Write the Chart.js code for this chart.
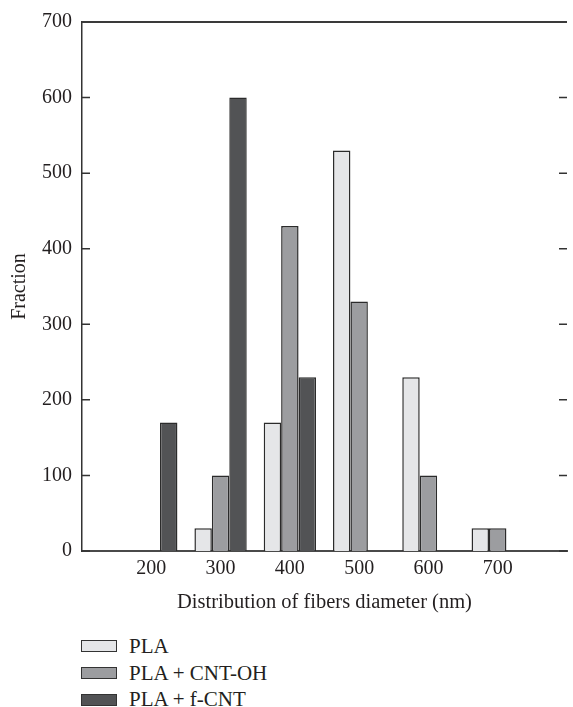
<!DOCTYPE html>
<html>
<head>
<meta charset="utf-8">
<script src="https://cdn.jsdelivr.net/npm/chart.js@4/dist/chart.umd.min.js"></script>
<style>
  html, body { margin: 0; padding: 0; background: #fff; }
  #wrap { position: relative; width: 573px; height: 707px; overflow: hidden; }
  #box { position: absolute; left: 0; top: 0; width: 573px; height: 625px; }
  #legend { position: absolute; left: 81px; top: 633px; font-family: "Liberation Serif", serif; font-size: 21px; color: #231f20; }
  .item { display: flex; align-items: center; height: 26.7px; }
  .sw { width: 34px; height: 10px; border: 1.5px solid #333; margin-right: 12px; }
</style>
</head>
<body>
<div id="wrap">
  <div id="box"><canvas id="c"></canvas></div>
  <div id="legend"></div>
</div>
<script>
// Category slots along the x axis (100 and 800 are empty edge slots)
const categories = ['100', '200', '300', '400', '500', '600', '700', '800'];
const tickLabels = ['200', '300', '400', '500', '600', '700'];
const seriesNames = ['PLA', 'PLA + CNT-OH', 'PLA + f-CNT'];
const plaValues    = [null, 0,  30, 170, 530, 230, 30, null];
const cntOhValues  = [null, 0, 100, 430, 330, 100, 30, null];
const fCntValues   = [null, 170, 600, 230, 0, 0, 0, null];
const seriesColors = ['#e5e6e8', '#9c9da0', '#525355'];
const yTicks = [0, 100, 200, 300, 400, 500, 600, 700];

const FONT = { family: '"Liberation Serif", serif', size: 20 };
const TITLE_FONT = { family: '"Liberation Serif", serif', size: 20.5 };
const TEXT = '#231f20';

const innerTicks = {
  id: 'innerTicks',
  afterDraw(chart) {
    const { ctx, chartArea: { left, right, top } } = chart;
    const ys = chart.scales.y;
    ctx.save();
    ctx.strokeStyle = '#333';
    ctx.lineWidth = 1.5;
    ys.ticks.forEach(t => {
      const y = ys.getPixelForValue(t.value);
      ctx.beginPath();
      ctx.moveTo(left, y); ctx.lineTo(left + 8, y);
      ctx.moveTo(right - 8, y); ctx.lineTo(right, y);
      ctx.stroke();
    });
    ctx.lineWidth = 2;
    ctx.strokeStyle = '#3a3a3a';
    ctx.beginPath();
    ctx.moveTo(left, top); ctx.lineTo(right, top);
    ctx.stroke();
    ctx.restore();
  }
};

const allSeries = [plaValues, cntOhValues, fCntValues];
const chart = new Chart(document.getElementById('c'), {
  type: 'bar',
  data: {
    labels: categories,
    datasets: allSeries.map((vals, i) => ({
      label: seriesNames[i],
      data: vals,
      backgroundColor: seriesColors[i],
      borderColor: '#2b2b2b',
      borderWidth: ctx => (ctx.raw ? 1.5 : 0),
      borderSkipped: 'start',
      categoryPercentage: 0.755,
      barPercentage: 1.0
    }))
  },
  options: {
    responsive: true,
    maintainAspectRatio: false,
    animation: false,
    devicePixelRatio: 1,
    layout: { padding: { left: 0, right: 0, top: 22, bottom: 0 } },
    plugins: { legend: { display: false }, tooltip: { enabled: false } },
    scales: {
      x: {
        offset: false,
        grid: { display: false, drawTicks: false },
        border: { display: true, color: '#4a4a4a', width: 2 },
        ticks: {
          autoSkip: false, maxRotation: 0, color: TEXT, font: FONT, padding: 6,
          callback: function (v) {
            const lab = this.getLabelForValue(v);
            return tickLabels.includes(lab) ? lab : '';
          }
        },
        title: { display: true, text: 'Distribution of fibers diameter (nm)', color: TEXT, font: TITLE_FONT, padding: { top: 0, bottom: 10 } },
        afterFit: s => { s.height = 74; }
      },
      y: {
        min: 0, max: 700,
        afterBuildTicks: s => { s.ticks = yTicks.map(v => ({ value: v })); },
        grid: { display: false, drawTicks: false },
        border: { display: true, color: '#333', width: 1.5 },
        ticks: { color: TEXT, font: FONT, padding: 10 },
        title: { display: true, text: 'Fraction', color: TEXT, font: FONT, padding: { top: 8, bottom: 0 } },
        afterFit: s => { s.width = 82; }
      }
    }
  },
  plugins: [innerTicks]
});

// HTML legend built from the chart's datasets
const leg = document.getElementById('legend');
chart.data.datasets.forEach(ds => {
  const row = document.createElement('div');
  row.className = 'item';
  const sw = document.createElement('span');
  sw.className = 'sw';
  sw.style.background = ds.backgroundColor;
  const tx = document.createElement('span');
  tx.textContent = ds.label;
  row.appendChild(sw); row.appendChild(tx);
  leg.appendChild(row);
});
</script>
</body>
</html>
